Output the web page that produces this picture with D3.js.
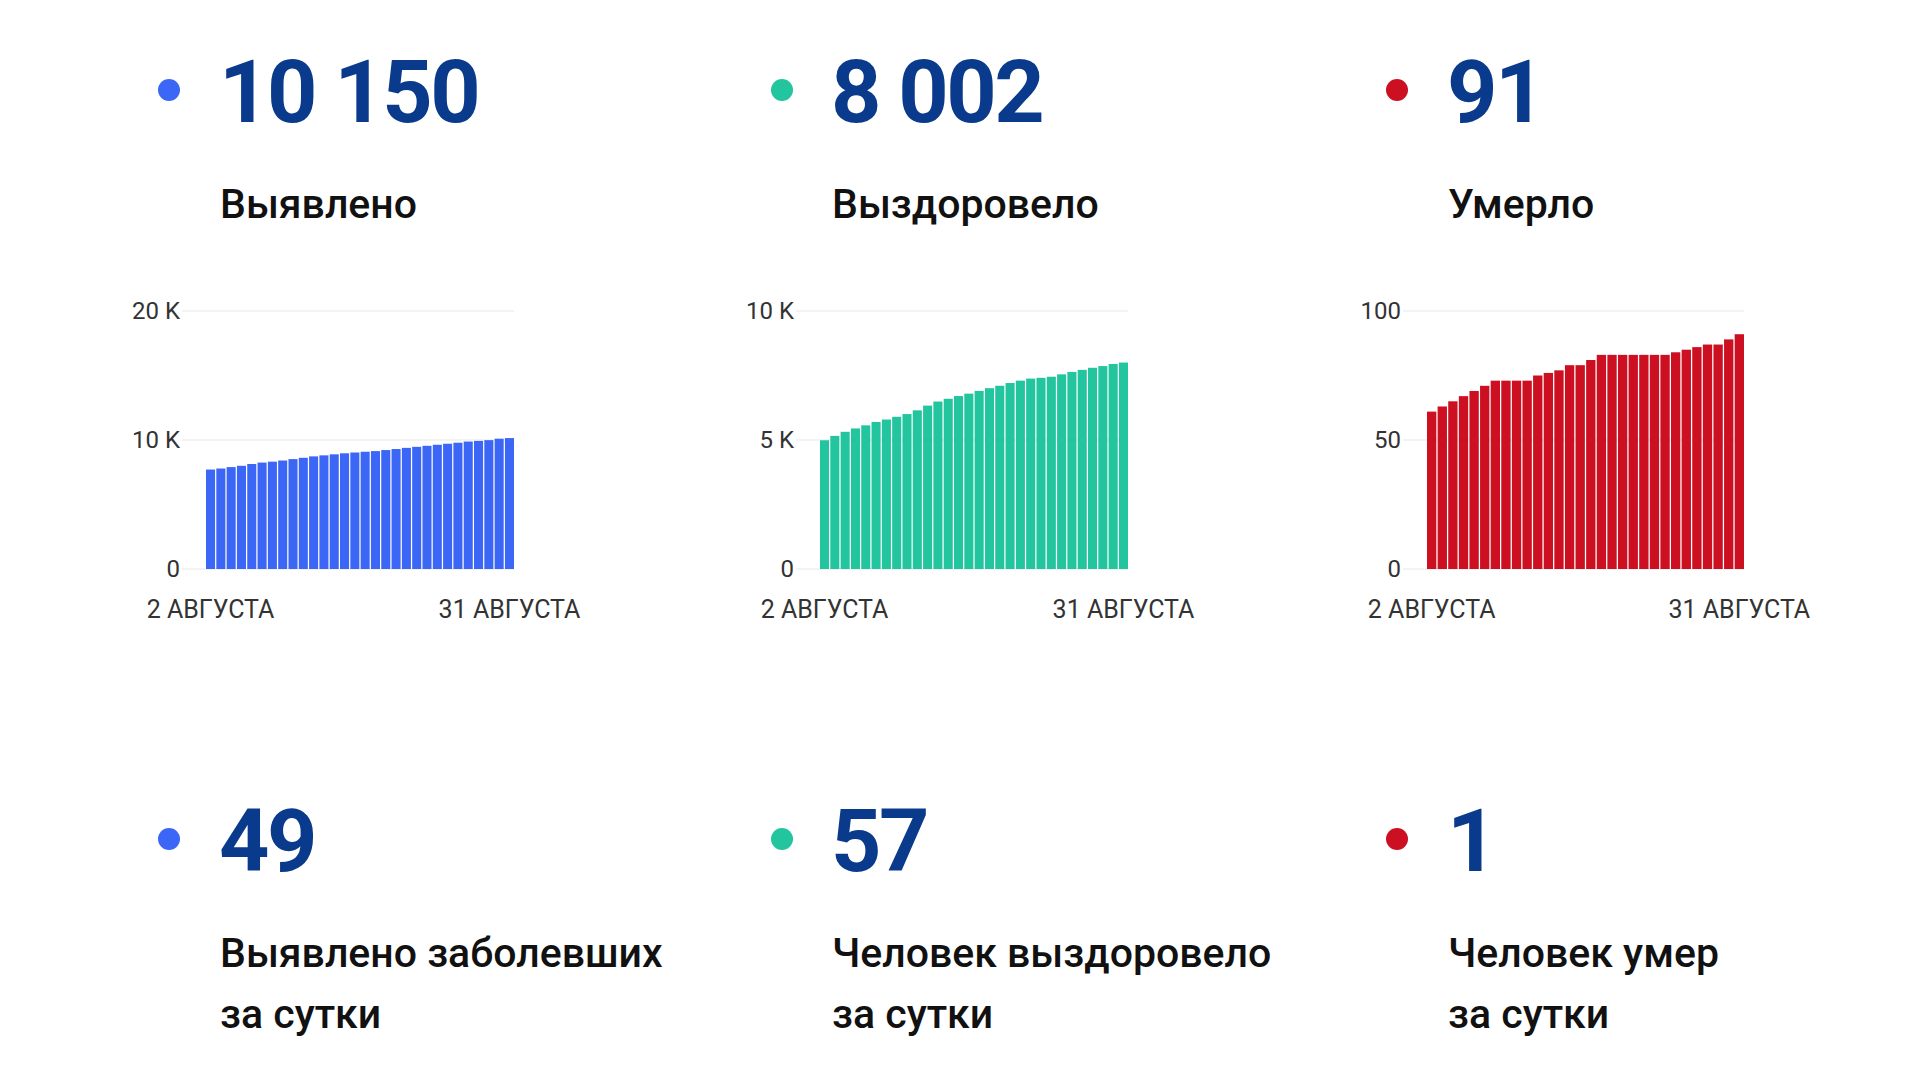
<!DOCTYPE html>
<html><head><meta charset="utf-8">
<script src="https://cdn.jsdelivr.net/npm/d3@7"></script>
<style>
html,body{margin:0;padding:0;background:#fff;}
svg{display:block;font-family:Roboto,"Noto Sans",sans-serif;}
</style></head><body>
<svg id="c" width="1920" height="1080"></svg>
<script>
// ---- data ----
const days = d3.range(2, 32); // 2..31 August
const xTickLabels = ["2 АВГУСТА", "31 АВГУСТА"];

const confirmed = [7710, 7790, 7900, 8000, 8140, 8250, 8320, 8410, 8520, 8620,
  8730, 8810, 8890, 8970, 9030, 9090, 9140, 9220, 9300, 9390,
  9470, 9550, 9630, 9710, 9790, 9880, 9930, 9990, 10101, 10150];
const recovered = [4990, 5159, 5317, 5449, 5568, 5699, 5793, 5899, 6005, 6150,
  6333, 6491, 6597, 6703, 6796, 6902, 7009, 7102, 7208, 7301,
  7381, 7410, 7452, 7545, 7638, 7719, 7799, 7866, 7945, 8002];
const deaths = [61, 63, 65, 67, 69, 71, 73, 73, 73, 73,
  75, 76, 77, 79, 79, 81, 83, 83, 83, 83,
  83, 83, 83, 84, 85, 86, 87, 87, 89, 91];

const confirmedTicks = [0, 10000, 20000];
const confirmedTickLabels = ["0", "10 K", "20 K"];
const recoveredTicks = [0, 5000, 10000];
const recoveredTickLabels = ["0", "5 K", "10 K"];
const deathsTicks = [0, 50, 100];
const deathsTickLabels = ["0", "50", "100"];

const totals = ["10 150", "8 002", "91"];
const totalLabels = ["Выявлено", "Выздоровело", "Умерло"];
const dailyValues = ["49", "57", "1"];
const dailyLabels = [["Выявлено заболевших", "за сутки"], ["Человек выздоровело", "за сутки"], ["Человек умер", "за сутки"]];

// ---- styling / layout ----
const colors = ["#3c67f6", "#22c59e", "#cc1022"];
const numColor = "#0a3a8c";
const dotX = [169, 782, 1397];
const textX = [219, 831, 1447];
const bandRanges = [[206, 514], [820, 1128], [1427, 1744]];
const series = [confirmed, recovered, deaths];
const ticks = [confirmedTicks, recoveredTicks, deathsTicks];
const tickLabels = [confirmedTickLabels, recoveredTickLabels, deathsTickLabels];

const svg = d3.select("#c");
svg.append("rect").attr("width", 1920).attr("height", 1080).attr("fill", "#fff");

for (let k = 0; k < 3; k++) {
  const g = svg.append("g");
  // headline row
  g.append("circle").attr("cx", dotX[k]).attr("cy", 90).attr("r", 11).attr("fill", colors[k]);
  g.append("text").attr("x", textX[k]).attr("y", 122).attr("font-size", 88).attr("font-weight", 700)
    .attr("fill", numColor).attr("letter-spacing", -2.5).text(totals[k]);
  g.append("text").attr("x", textX[k] + 1).attr("y", 218).attr("font-size", 41).attr("font-weight", 500)
    .attr("fill", "#111").text(totalLabels[k]);

  // chart
  const x = d3.scaleBand().domain(days).range(bandRanges[k]).paddingInner(0.12).paddingOuter(0);
  const tk = ticks[k];
  const y = d3.scaleLinear().domain([0, tk[tk.length - 1]]).range([569, 311]);
  const gridStart = bandRanges[k][0] - 24;

  g.selectAll(".grid").data(tk).join("line")
    .attr("x1", gridStart).attr("x2", bandRanges[k][1])
    .attr("y1", d => y(d)).attr("y2", d => y(d))
    .attr("stroke", "#e8e8e8").attr("stroke-width", 1.2);

  g.selectAll(".ytl").data(tk).join("text")
    .attr("x", gridStart - 2).attr("y", d => y(d)).attr("dy", "0.35em")
    .attr("text-anchor", "end").attr("font-size", 24).attr("fill", "#333")
    .text((d, i) => tickLabels[k][i]);

  g.selectAll(".bar").data(series[k]).join("rect")
    .attr("x", (d, i) => x(days[i])).attr("width", x.bandwidth())
    .attr("y", d => y(d)).attr("height", d => y(0) - y(d))
    .attr("fill", colors[k]);

  const xt = [days[0], days[days.length - 1]];
  g.selectAll(".xtl").data(xt).join("text")
    .attr("x", d => x(d) + x.bandwidth() / 2).attr("y", 618)
    .attr("text-anchor", "middle").attr("font-size", 25).attr("fill", "#333")
    .text((d, i) => xTickLabels[i]);

  // daily row
  g.append("circle").attr("cx", dotX[k]).attr("cy", 839).attr("r", 11).attr("fill", colors[k]);
  g.append("text").attr("x", textX[k]).attr("y", 871).attr("font-size", 88).attr("font-weight", 700)
    .attr("fill", numColor).attr("letter-spacing", -2.5).text(dailyValues[k]);
  dailyLabels[k].forEach((line, j) => {
    g.append("text").attr("x", textX[k] + 1).attr("y", 967 + j * 61).attr("font-size", 41)
      .attr("font-weight", 500).attr("fill", "#111").text(line);
  });
}
</script>
</body></html>
